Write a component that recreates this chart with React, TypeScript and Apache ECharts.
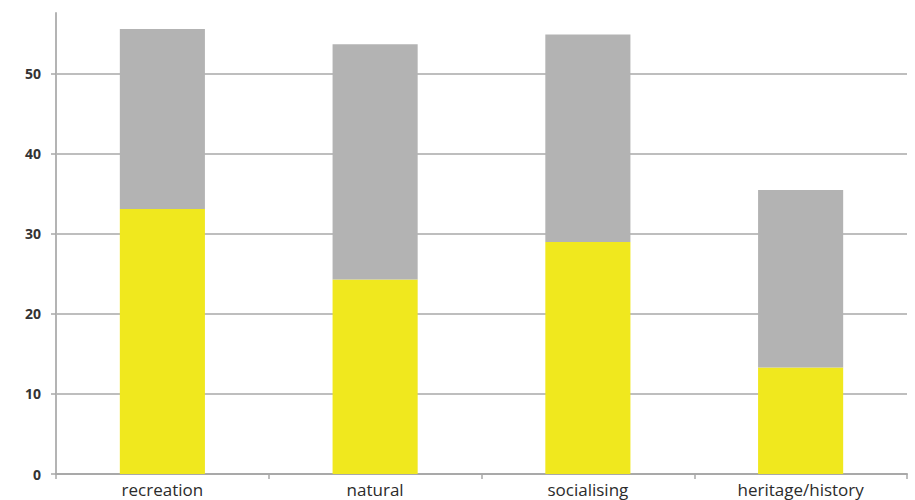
import React, { useEffect, useRef } from "react";
import * as echarts from "echarts";

const categories = ["recreation", "natural", "socialising", "heritage/history"];
const yellowValues = [33.1, 24.3, 29.0, 13.3];
const grayValues = [22.5, 29.4, 25.9, 22.2];

export default function App() {
  const ref = useRef<HTMLDivElement>(null);
  useEffect(() => {
    if (!ref.current) return;
    const chart = echarts.init(ref.current, null, { renderer: "svg" });
    const gl = "#a9a9a9";
    chart.setOption({
      animation: false,
      backgroundColor: "#ffffff",
      grid: { left: 56, right: 8, top: 13, bottom: 26, containLabel: false },
      xAxis: {
        type: "category",
        data: categories,
        axisLine: { show: true, lineStyle: { color: gl, width: 2 } },
        axisTick: { show: true, length: 5, lineStyle: { color: gl, width: 1.5 } },
        axisLabel: {
          color: "#2b2b2b",
          fontSize: 17,
          fontFamily: "Open Sans",
          margin: 7,
        },
      },
      yAxis: {
        type: "value",
        min: 0,
        max: 57.6,
        interval: 10,
        axisLine: { show: true, lineStyle: { color: "#b4b4b4", width: 2 } },
        axisTick: { show: true, length: 5, lineStyle: { color: gl, width: 1.5 } },
        splitLine: {
          show: true,
          lineStyle: { color: [gl, gl, gl, gl, gl, gl, "rgba(0,0,0,0)"], width: 1.5 },
        },
        axisLabel: {
          color: "#333333",
          fontSize: 14,
          fontWeight: "bold",
          fontFamily: "Open Sans",
          margin: 15,
          showMaxLabel: false,
        },
      },
      series: [
        {
          type: "bar",
          stack: "total",
          data: yellowValues,
          barWidth: "40%",
          itemStyle: { color: "#f0e81e" },
        },
        {
          type: "bar",
          stack: "total",
          data: grayValues,
          barWidth: "40%",
          itemStyle: { color: "#b3b3b3" },
        },
      ],
    });
    return () => chart.dispose();
  }, []);
  return <div ref={ref} style={{ width: 915, height: 500, position: "absolute", left: 0, top: 0 }} />;
}
